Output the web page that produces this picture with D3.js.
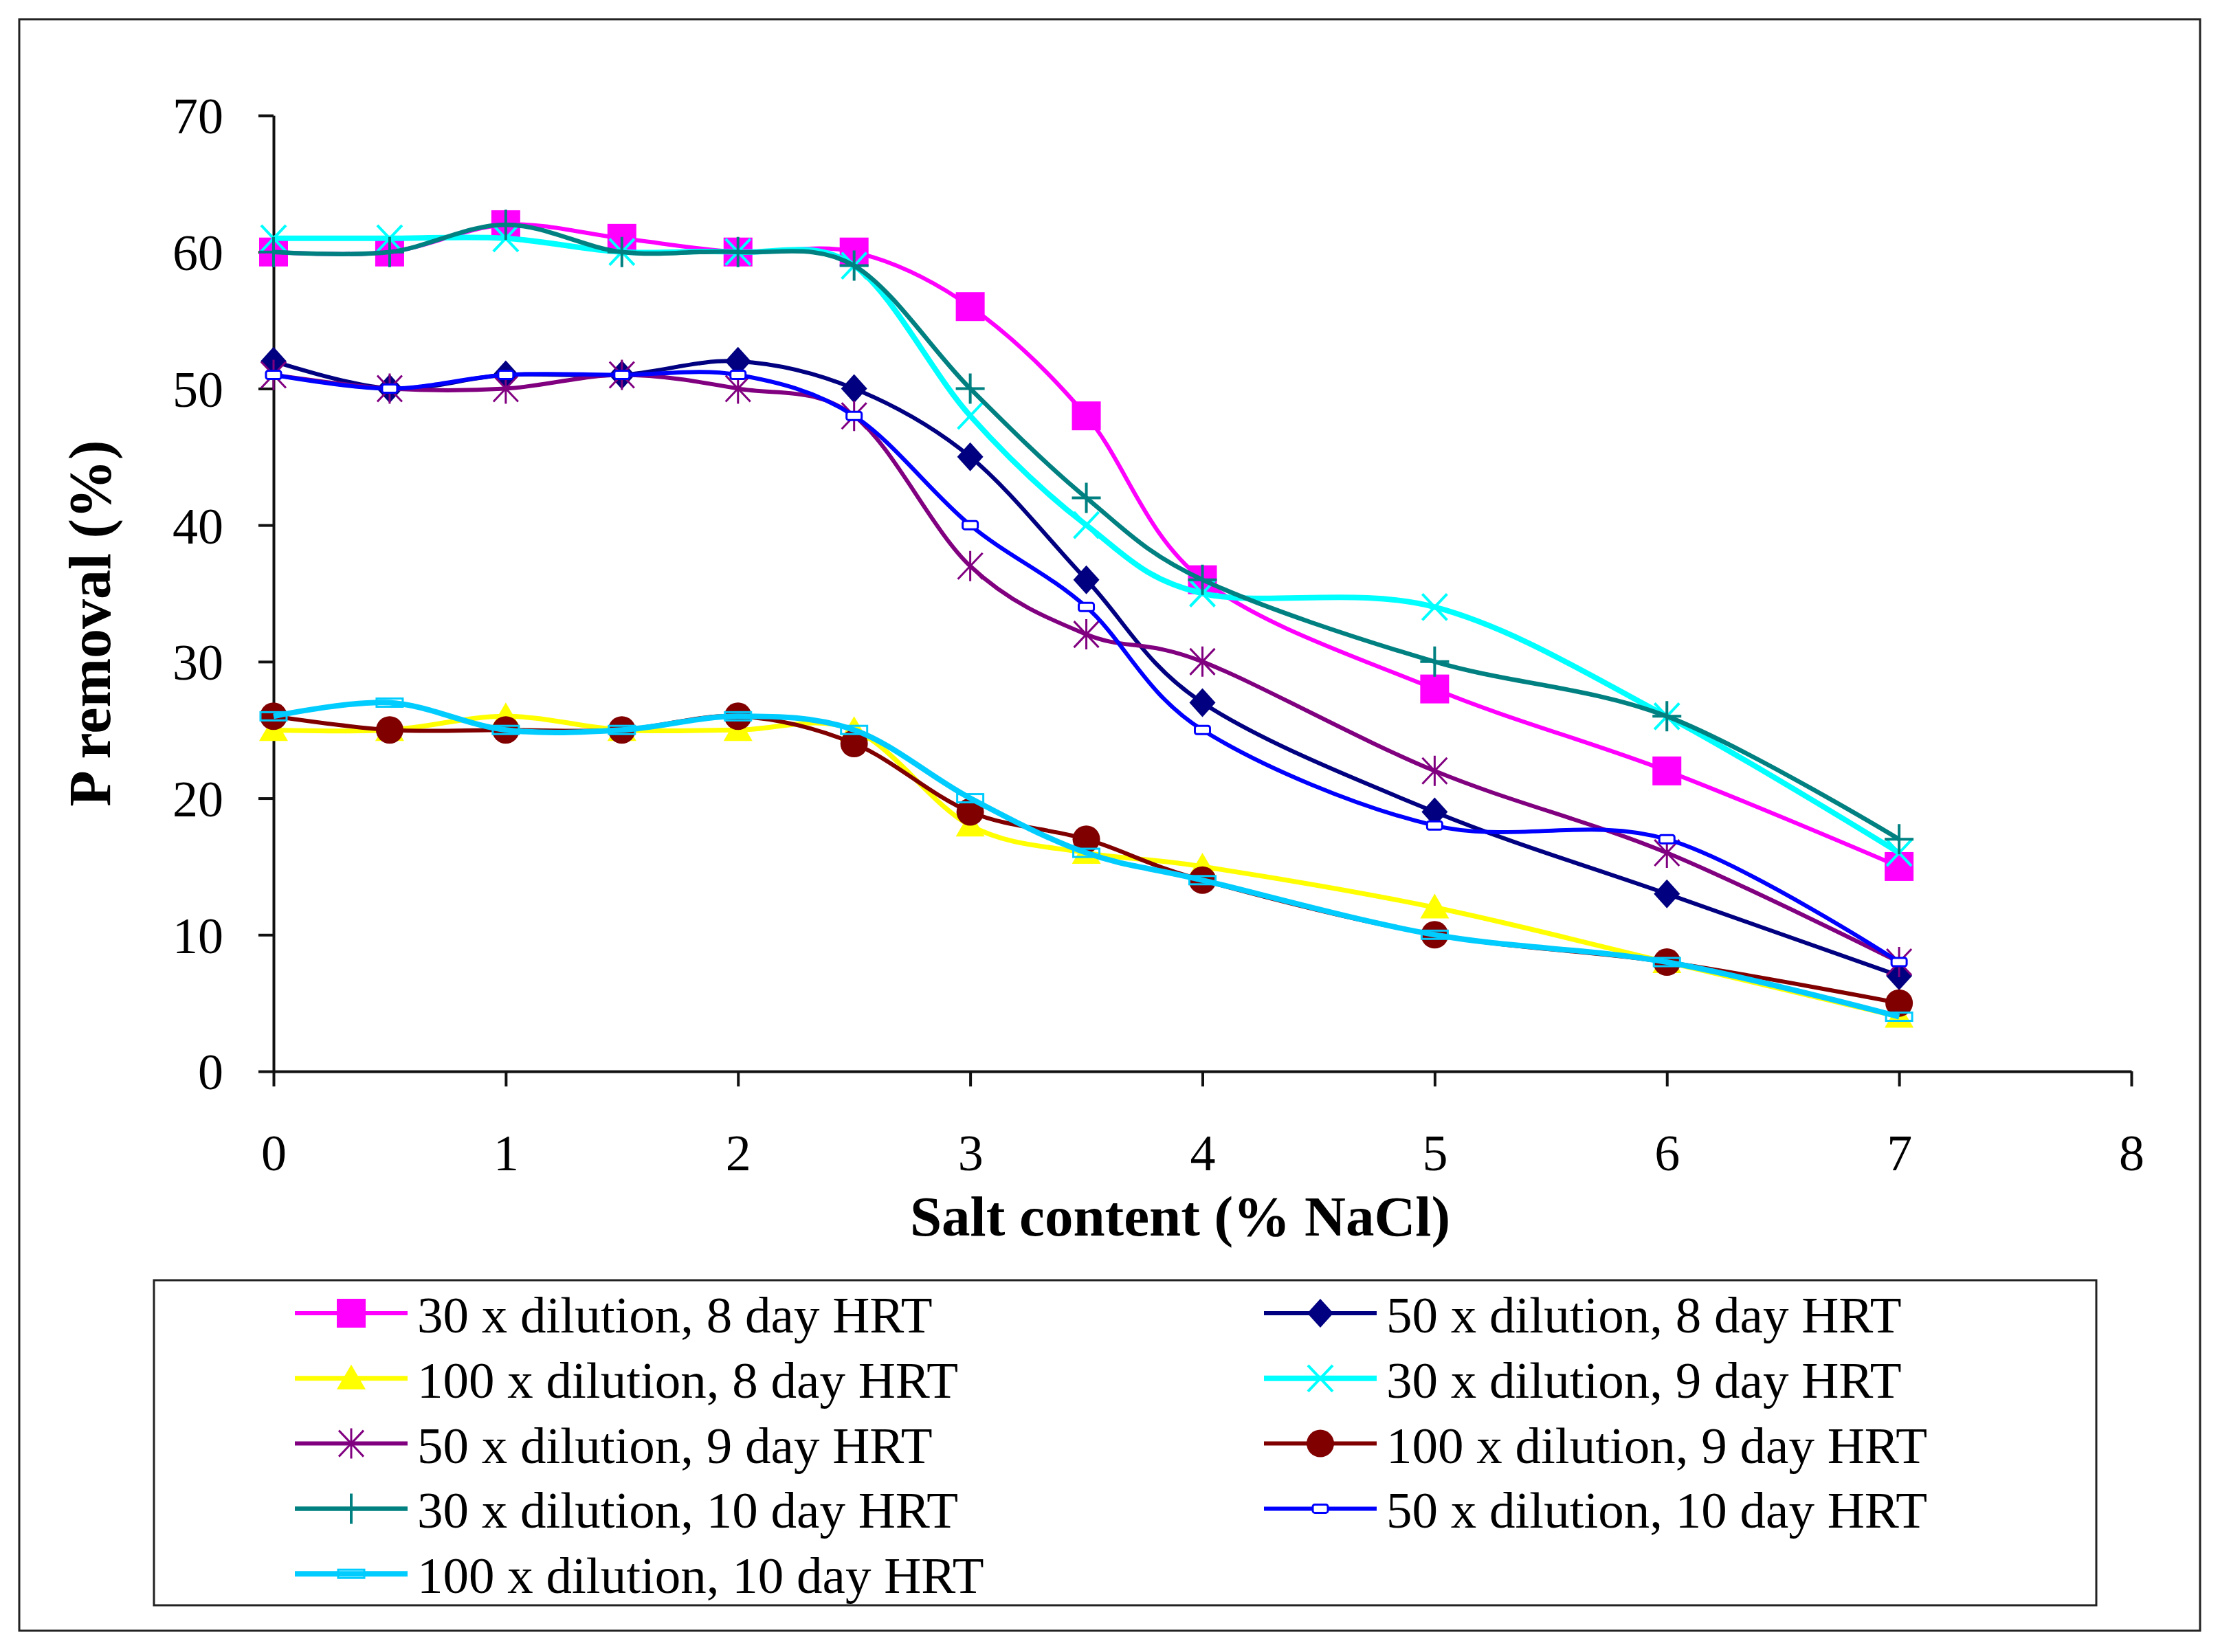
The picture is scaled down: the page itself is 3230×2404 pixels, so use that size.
<!DOCTYPE html>
<html>
<head>
<meta charset="utf-8">
<script src="https://cdn.jsdelivr.net/npm/d3@7"></script>
<style>
  body { margin: 0; background: #fff; }
  text { font-family: "Liberation Serif", "Times New Roman", serif; fill: #000; }
</style>
</head>
<body>
<div class="container"></div>
<script>
// Data
const saltContent = [0, 0.5, 1, 1.5, 2, 2.5, 3, 3.5, 4, 5, 6, 7];

const dil30Hrt8 = [60, 60, 62, 61, 60, 60, 56, 48, 36, 28, 22, 15];
const dil50Hrt8 = [52, 50, 51, 51, 52, 50, 45, 36, 27, 19, 13, 7];
const dil100Hrt8 = [25, 25, 26, 25, 25, 25, 18, 16, 15, 12, 8, 4];
const dil30Hrt9 = [61, 61, 61, 60, 60, 59, 48, 40, 35, 34, 26, 16];
const dil50Hrt9 = [51, 50, 50, 51, 50, 48, 37, 32, 30, 22, 16, 8];
const dil100Hrt9 = [26, 25, 25, 25, 26, 24, 19, 17, 14, 10, 8, 5];
const dil30Hrt10 = [60, 60, 62, 60, 60, 59, 50, 42, 36, 30, 26, 17];
const dil50Hrt10 = [51, 50, 51, 51, 51, 48, 40, 34, 25, 18, 17, 8];
const dil100Hrt10 = [26, 27, 25, 25, 26, 25, 20, 16, 14, 10, 8, 4];

const seriesNames = [
    "30 x dilution, 8 day HRT",
    "50 x dilution, 8 day HRT",
    "100 x dilution, 8 day HRT",
    "30 x dilution, 9 day HRT",
    "50 x dilution, 9 day HRT",
    "100 x dilution, 9 day HRT",
    "30 x dilution, 10 day HRT",
    "50 x dilution, 10 day HRT",
    "100 x dilution, 10 day HRT"
];

const xTicks = [0, 1, 2, 3, 4, 5, 6, 7, 8];
const yTicks = [0, 10, 20, 30, 40, 50, 60, 70];

// Look of each series (Excel style)
const seriesColors = ["#FF00FF", "#000080", "#FFFF00", "#00FFFF", "#800080",
    "#800000", "#008080", "#0000FF", "#00CCFF"];
const seriesMarkers = ["square", "diamond", "triangle", "x", "star",
    "circle", "plus", "dash", "longdash"];
const seriesWidths = [6, 6, 7, 8, 6, 6, 6.5, 6, 8];

const allValues = [dil30Hrt8, dil50Hrt8, dil100Hrt8, dil30Hrt9, dil50Hrt9,
    dil100Hrt9, dil30Hrt10, dil50Hrt10, dil100Hrt10];

const series = seriesNames.map((name, i) => ({
    name: name,
    color: seriesColors[i],
    marker: seriesMarkers[i],
    width: seriesWidths[i],
    points: saltContent.map((x, j) => ({ x: x, y: allValues[i][j] }))
}));

//Set up chart
const svgWidth = 3230,
    svgHeight = 2404;

const svg = d3.select(".container")
    .append("svg")
    .attr("width", svgWidth)
    .attr("height", svgHeight);

svg.append("rect")
    .attr("width", svgWidth)
    .attr("height", svgHeight)
    .attr("fill", "#fff");

// outer chart frame
svg.append("rect")
    .attr("x", 28).attr("y", 28)
    .attr("width", 3173).attr("height", 2345)
    .attr("fill", "none")
    .attr("stroke", "#222")
    .attr("stroke-width", 3);

//Scales
const xScale = d3.scaleLinear().domain([0, 8]).range([398, 3101]);
const yScale = d3.scaleLinear().domain([0, 70]).range([1559, 168]);

//Axes
const xAxis = svg.append("g")
    .attr("transform", `translate(0, ${yScale(0)})`)
    .call(d3.axisBottom(xScale).tickValues(xTicks).tickSize(22).tickSizeOuter(0).tickFormat(d3.format("d")));

xAxis.selectAll("text")
    .attr("y", 144)
    .attr("dy", null)
    .style("font-size", "74px");

const yAxis = svg.append("g")
    .attr("transform", `translate(${xScale(0)}, 0)`)
    .call(d3.axisLeft(yScale).tickValues(yTicks).tickSize(22).tickSizeOuter(0));

yAxis.selectAll("text")
    .attr("x", -73)
    .attr("dy", "0.35em")
    .style("font-size", "74px");

svg.selectAll(".domain, .tick line")
    .attr("stroke", "#111")
    .attr("stroke-width", 4);
svg.selectAll(".tick text").attr("font-family", null).attr("font-size", null);

// axis titles
svg.append("text")
    .attr("x", 1717)
    .attr("y", 1798)
    .attr("text-anchor", "middle")
    .style("font-size", "83px")
    .style("font-weight", "bold")
    .text("Salt content (% NaCl)");

svg.append("text")
    .attr("transform", "translate(160, 907) rotate(-90)")
    .attr("text-anchor", "middle")
    .style("font-size", "86px")
    .style("font-weight", "bold")
    .text("P removal (%)");

//Marker drawing
function drawMarker(g, type, color) {
    if (type === "square") {
        g.append("rect").attr("x", -21).attr("y", -21).attr("width", 42).attr("height", 42).attr("fill", color);
    } else if (type === "diamond") {
        g.append("path").attr("d", "M0,-21L19,0L0,21L-19,0Z").attr("fill", color);
    } else if (type === "triangle") {
        g.append("path").attr("d", "M0,-20L21,16L-21,16Z").attr("fill", color);
    } else if (type === "circle") {
        g.append("circle").attr("r", 20).attr("fill", color);
    } else if (type === "x") {
        g.append("path").attr("d", "M-18,-19L18,19M-18,19L18,-19")
            .attr("stroke", color).attr("stroke-width", 4).attr("fill", "none");
    } else if (type === "star") {
        g.append("path").attr("d", "M-18,-19L18,19M-18,19L18,-19M0,-22L0,22")
            .attr("stroke", color).attr("stroke-width", 3).attr("fill", "none");
    } else if (type === "plus") {
        g.append("path").attr("d", "M-21,0L21,0M0,-22L0,22")
            .attr("stroke", color).attr("stroke-width", 4).attr("fill", "none");
    } else if (type === "dash") {
        g.append("rect").attr("x", -11).attr("y", -6).attr("width", 22).attr("height", 12).attr("rx", 3)
            .attr("fill", "#fff").attr("stroke", color).attr("stroke-width", 3);
    } else if (type === "longdash") {
        g.append("rect").attr("x", -19).attr("y", -6).attr("width", 38).attr("height", 12)
            .attr("fill", "none").attr("stroke", color).attr("stroke-width", 3);
    }
}

//Smoothed lines + markers, drawn in series order
const line = d3.line()
    .x(d => xScale(d.x))
    .y(d => yScale(d.y))
    .curve(d3.curveCatmullRom.alpha(0));

const seriesGroup = svg.selectAll(".series")
    .data(series)
    .enter()
    .append("g")
    .attr("class", "series");

seriesGroup.each(function(s) {
    const g = d3.select(this);
    g.append("path")
        .attr("d", line(s.points))
        .attr("fill", "none")
        .attr("stroke", s.color)
        .attr("stroke-width", s.width)
        .attr("stroke-linejoin", "round");
    s.points.forEach(p => {
        const m = g.append("g")
            .attr("transform", `translate(${xScale(p.x)}, ${yScale(p.y)})`);
        drawMarker(m, s.marker, s.color);
    });
});

//Legend
svg.append("rect")
    .attr("x", 224).attr("y", 1863)
    .attr("width", 2826).attr("height", 473)
    .attr("fill", "#fff")
    .attr("stroke", "#222")
    .attr("stroke-width", 3);

const legendCols = [429, 1839];
const legendItem = svg.selectAll(".legend-item")
    .data(series)
    .enter()
    .append("g")
    .attr("class", "legend-item")
    .attr("transform", (d, i) => `translate(${legendCols[i % 2]}, ${1911 + Math.floor(i / 2) * 94.8})`);

legendItem.each(function(s) {
    const g = d3.select(this);
    g.append("line")
        .attr("x1", 0).attr("x2", 164)
        .attr("stroke", s.color)
        .attr("stroke-width", s.width);
    drawMarker(g.append("g").attr("transform", "translate(82, 0)"), s.marker, s.color);
    g.append("text")
        .attr("x", 178)
        .attr("y", 28)
        .style("font-size", "75px")
        .text(s.name);
});
</script>
</body>
</html>
